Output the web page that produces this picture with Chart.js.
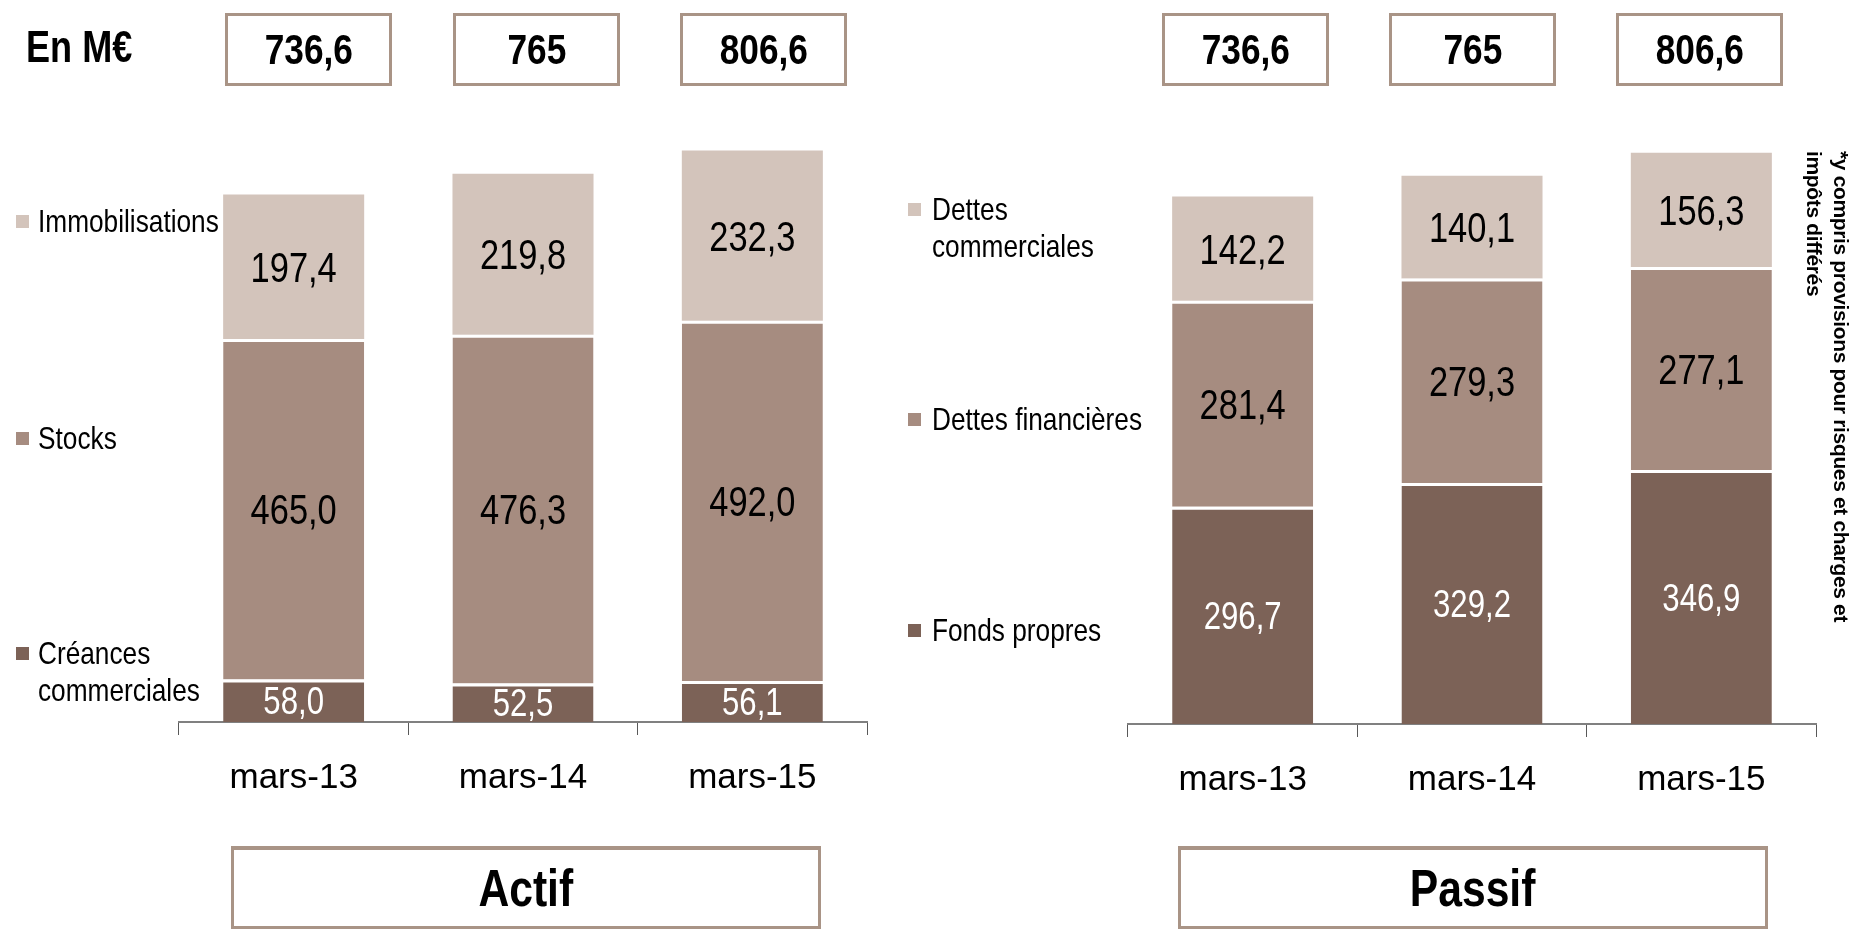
<!DOCTYPE html>
<html lang="fr">
<head>
<meta charset="UTF-8">
<title>Bilan simplifié</title>
<script src="https://cdn.jsdelivr.net/npm/chart.js"></script>
<style>
    body { margin: 0; background: #fff; font-family: 'Liberation Sans', Arial, sans-serif; }
    #page { position: relative; width: 1860px; height: 931px; overflow: hidden; }
    canvas { position: absolute; top: 0; }
    .box {
        position: absolute; box-sizing: border-box;
        border: 3px solid #a99486;
        display: flex; align-items: center; justify-content: center;
        font-weight: bold; color: #000;
    }
    .narrow { display: inline-block; transform: scaleX(0.82); white-space: nowrap; }
    #unit { position: absolute; left: 26px; top: 22px; font-size: 44px; font-weight: bold; }
    #note {
        position: absolute; top: 151px; left: 1799px; width: 56px;
        writing-mode: vertical-rl; font-size: 21px; line-height: 27px;
        letter-spacing: -0.35px; font-weight: bold; white-space: nowrap;
    }
</style>
</head>
<body>
<div id="page">
    <canvas id="actif" width="900" height="931" style="left:0"></canvas>
    <canvas id="passif" width="960" height="931" style="left:900px"></canvas>
    <div id="unit"><span class="narrow" style="transform-origin:left">En M€</span></div>
    <div id="note">*y compris provisions pour risques et charges et<br>impôts différés</div>
</div>
<script>
    // données (M€)
    const periodes = ['mars-13', 'mars-14', 'mars-15'];
    const totaux = [736.6, 765, 806.6];

    const actifNoms = ['Créances\ncommerciales', 'Stocks', 'Immobilisations'];
    const creances = [58.0, 52.5, 56.1];
    const stocks = [465.0, 476.3, 492.0];
    const immobilisations = [197.4, 219.8, 232.3];

    const passifNoms = ['Fonds propres', 'Dettes financières', 'Dettes\ncommerciales'];
    const fondsPropres = [296.7, 329.2, 346.9];
    const dettesFinancieres = [281.4, 279.3, 277.1];
    const dettesCommerciales = [142.2, 140.1, 156.3];

    const couleurs = ['#7c6257', '#a68c80', '#d3c4bb'];
    const FONT = '"Liberation Sans", Arial, sans-serif';

    const fmtTotal = v => Number.isInteger(v) ? String(v) : v.toFixed(1).replace('.', ',');
    const fmtValeur = v => v.toFixed(1).replace('.', ',');

    // étiquettes de valeur au centre des segments (police étroite)
    const valueLabels = {
        id: 'valueLabels',
        afterDatasetsDraw(chart) {
            const ctx = chart.ctx;
            chart.data.datasets.forEach((ds, i) => {
                const size = i === 0 ? 38 : 42;
                chart.getDatasetMeta(i).data.forEach((bar, j) => {
                    ctx.save();
                    ctx.translate(bar.x, (bar.y + bar.base) / 2 + size * 0.716 / 2);
                    ctx.scale(0.82, 1);
                    ctx.font = size + 'px ' + FONT;
                    ctx.fillStyle = i === 0 ? '#fff' : '#000';
                    ctx.textAlign = 'center';
                    ctx.textBaseline = 'alphabetic';
                    ctx.fillText(fmtValeur(ds.data[j]), 0, 0);
                    ctx.restore();
                });
            });
        }
    };

    // légende à gauche, une entrée par ligne
    const sideLegend = {
        id: 'sideLegend',
        afterDraw(chart, args, opts) {
            const ctx = chart.ctx;
            chart.data.datasets.forEach((ds, i) => {
                const y = opts.rows[i];
                ctx.fillStyle = ds.backgroundColor;
                ctx.fillRect(opts.markerX, y - 6, 13, 13);
                ctx.fillStyle = '#000';
                ctx.font = '32px ' + FONT;
                ctx.textAlign = 'left';
                ctx.textBaseline = 'alphabetic';
                ds.label.split('\n').forEach((line, k) => {
                    ctx.save();
                    ctx.translate(opts.textX, y + k * 37 + 11);
                    ctx.scale(0.82, 1);
                    ctx.fillText(line, 0, 0);
                    ctx.restore();
                });
            });
        }
    };

    function makeChart(id, noms, series, legend, padding) {
        const datasets = series.map((data, i) => ({
            label: noms[i],
            data: data,
            backgroundColor: couleurs[i],
            borderColor: '#ffffff',
            borderWidth: i < 2 ? { top: 3, left: 0, right: 0, bottom: 0 } : 0,
            borderSkipped: false,
            barPercentage: 0.615,
            categoryPercentage: 1
        }));
        return new Chart(document.getElementById(id), {
            type: 'bar',
            data: { labels: periodes, datasets: datasets },
            options: {
                responsive: false,
                animation: false,
                layout: { padding: padding },
                plugins: {
                    legend: { display: false },
                    tooltip: { enabled: false },
                    sideLegend: legend
                },
                scales: {
                    x: {
                        stacked: true,
                        grid: { drawOnChartArea: false, tickLength: 13, color: '#595959', lineWidth: 1, offset: true },
                        border: { display: true, color: '#808080', width: 2 },
                        ticks: { color: '#000', padding: 22, font: { family: FONT, size: 35 } }
                    },
                    y: { stacked: true, display: false, min: 0, max: 900 }
                }
            },
            plugins: [valueLabels, sideLegend]
        });
    }

    makeChart('actif', actifNoms, [creances, stocks, immobilisations],
        { rows: [653, 438, 221], markerX: 16, textX: 38 },
        { left: 179, right: 33, top: 63, bottom: 110 });

    makeChart('passif', passifNoms, [fondsPropres, dettesFinancieres, dettesCommerciales],
        { rows: [630, 419, 209], markerX: 8, textX: 32 },
        { left: 228, right: 44, top: 65, bottom: 108 });

    // encadrés des totaux et titres
    const page = document.getElementById('page');
    function addBox(x, y, w, h, text, size) {
        const d = document.createElement('div');
        d.className = 'box';
        d.style.cssText = `left:${x}px;top:${y}px;width:${w}px;height:${h}px;font-size:${size}px`;
        d.innerHTML = `<span class="narrow">${text}</span>`;
        page.appendChild(d);
        return d;
    }
    const boxX = [[225, 453, 680], [1162, 1389, 1616]];
    boxX.forEach(xs => xs.forEach((x, i) => addBox(x, 13, 167, 73, fmtTotal(totaux[i]), 43)));
    addBox(231, 846, 590, 83, 'Actif', 52).style.borderTopWidth = '4px';
    addBox(1178, 846, 590, 83, 'Passif', 52).style.borderTopWidth = '4px';
</script>
</body>
</html>
